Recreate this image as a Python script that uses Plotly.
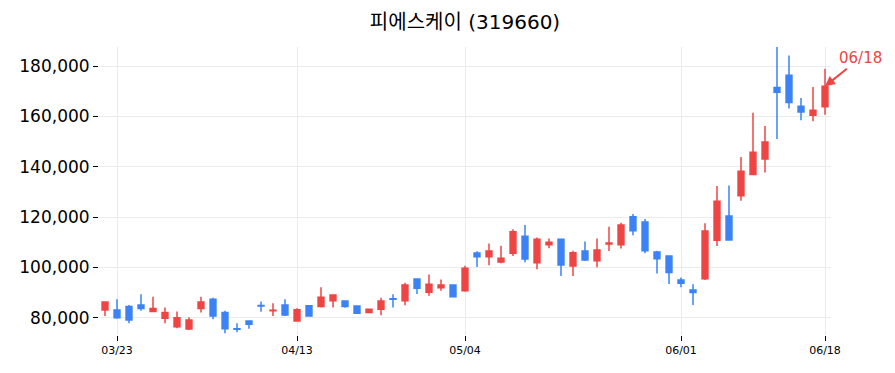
import plotly.graph_objects as go

dates = ["03/22", "03/23", "03/24", "03/25", "03/26", "03/29", "03/30", "03/31", "04/01", "04/02",
         "04/05", "04/06", "04/07", "04/08", "04/09", "04/12", "04/13", "04/14", "04/15", "04/16",
         "04/19", "04/20", "04/21", "04/22", "04/23", "04/26", "04/27", "04/28", "04/29", "04/30",
         "05/04", "05/06", "05/07", "05/10", "05/11", "05/12", "05/13", "05/14", "05/17", "05/18",
         "05/20", "05/21", "05/24", "05/25", "05/26", "05/27", "05/28", "05/31", "06/01", "06/02",
         "06/03", "06/04", "06/07", "06/08", "06/09", "06/11", "06/14", "06/15", "06/16", "06/17",
         "06/18"]

open_ = [83000, 83000, 84400, 85000, 82400, 79800, 76400, 75500, 83600, 87300,
         82000, 75600, 78700, 84800, 82700, 85000, 78700, 84700, 84400, 86700,
         86600, 84600, 82000, 83300, 87500, 86700, 95400, 90100, 91900, 93000,
         90700, 105700, 104200, 102100, 105600, 112400, 101800, 109000, 111200, 100500,
         106500, 102600, 109300, 109000, 120100, 118000, 106100, 104500, 95000, 91000,
         95500, 110800, 120400, 128500, 136900, 143100, 171500, 176400, 164000, 160500,
         163800]
high = [86300, 87300, 85000, 89300, 88300, 84000, 82400, 80200, 88300, 87900,
        82700, 77800, 78800, 86400, 85700, 87300, 83700, 85000, 92100, 89100,
        86700, 84700, 83400, 87900, 89300, 93900, 95500, 97200, 95200, 93100,
        100600, 106400, 109500, 108600, 115100, 116800, 111900, 111500, 111300, 106600,
        110300, 111500, 116100, 117700, 121200, 119200, 106600, 104600, 96000, 93300,
        117500, 132300, 132500, 143900, 161500, 156200, 188000, 184200, 167300, 171700,
        179000]
low = [80700, 79600, 77800, 82700, 82400, 77800, 75800, 75100, 82000, 79400,
       73800, 74200, 75600, 82300, 80700, 80700, 78400, 80500, 84000, 84000,
       83900, 81600, 81900, 81000, 84000, 84900, 89400, 88700, 90700, 88200,
       90300, 100100, 100800, 101600, 104500, 102000, 99200, 107600, 96600, 96600,
       102500, 100000, 106500, 107500, 112800, 105600, 97600, 93400, 92100, 85000,
       95000, 108500, 110800, 126500, 136700, 137700, 151000, 163100, 158500, 158100,
       160700]
close = [86200, 80000, 79100, 83600, 83600, 82000, 80000, 79100, 86200, 80700,
         75600, 75400, 77400, 84600, 82900, 81100, 83100, 80700, 88100, 89000,
         84400, 81700, 83300, 86600, 87300, 93000, 91700, 93300, 93000, 88300,
         99600, 104200, 106500, 103600, 114100, 103300, 111200, 110000, 100900, 105800,
         102900, 106900, 109700, 116800, 114500, 106600, 103400, 97900, 93700, 90000,
         114400, 126300, 110900, 138200, 145800, 149800, 169600, 165500, 161800, 162500,
         172000]

tick_dates = ["03/23", "04/13", "05/04", "06/01", "06/18"]
y_ticks = [80000, 100000, 120000, 140000, 160000, 180000]
title_text = "피에스케이 (319660)"
mark_label = "06/18"

RED = "#EF4444"
BLUE = "#3B82F6"

fig = go.Figure(go.Candlestick(
    x=dates, open=open_, high=high, low=low, close=close,
    increasing=dict(line=dict(color=RED, width=1.5), fillcolor=RED),
    decreasing=dict(line=dict(color=BLUE, width=1.5), fillcolor=BLUE),
    showlegend=False,
))

fig.add_annotation(
    x=mark_label, y=close[-1], text=mark_label, showarrow=True,
    arrowhead=2, arrowsize=1, arrowwidth=2, arrowcolor=RED,
    ax=35, ay=-28, font=dict(color=RED, size=15, family="DejaVu Sans"),
)

fig.update_layout(
    width=895, height=373,
    margin=dict(l=99, r=64, t=47, b=38),
    paper_bgcolor="white", plot_bgcolor="white",
    font=dict(family="DejaVu Sans, Noto Sans CJK KR", color="black"),
    title=dict(text=title_text, x=0.5, xref="paper", y=0.94, yref="container",
               xanchor="center", yanchor="middle",
               font=dict(size=20, family="DejaVu Sans, Noto Sans CJK KR", color="black")),
)
fig.update_xaxes(
    type="category", tickvals=tick_dates, ticktext=tick_dates,
    range=[-0.5, len(dates) - 0.5],
    rangeslider=dict(visible=False), showgrid=True, gridcolor="#ebebeb",
    ticks="outside", ticklen=5, tickcolor="black", tickfont=dict(size=11),
    showline=False, zeroline=False,
)
fig.update_yaxes(
    range=[73100, 187600], tickvals=y_ticks, tickformat=",d",
    showgrid=True, gridcolor="#ebebeb", ticks="outside", ticklen=5, tickcolor="black",
    tickfont=dict(size=17), showline=False, zeroline=False,
)

fig.write_html("out.html")
